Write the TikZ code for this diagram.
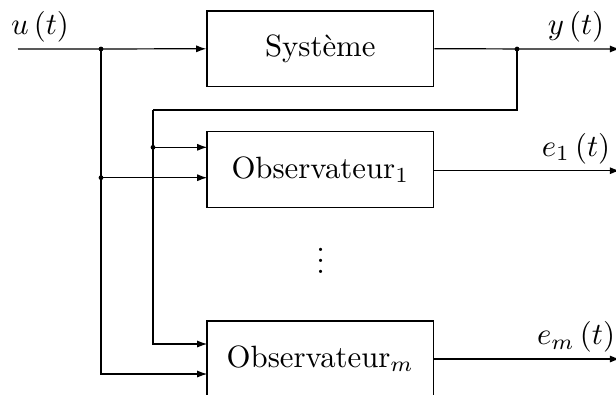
\documentclass[tikz,border=0pt]{standalone}
\usetikzlibrary{arrows.meta}
\begin{document}
\begin{tikzpicture}[x=0.3247pt,y=-0.3247pt,
  blockbox/.style={draw,minimum width=73.6pt,minimum height=24.5pt,inner sep=0pt},
  sig/.style={-{Latex[length=3.3pt,width=2.3pt]}},
  junc/.style={fill,circle,inner sep=0pt,minimum size=1.55pt},
  lbl/.style={above,inner sep=2pt}]
\useasboundingbox (0,0) rectangle (616,394);

% blocks
\node[blockbox] (sys)  at (320.3,48.8)  {Système};
\node[blockbox] (obs1) at (320.3,169.5) {Observateur$_1$};
\node[blockbox] (obsm) at (320.3,358.8) {Observateur$_m$};
\node[inner sep=0pt] (dots) at (320.7,261.3)
  {\vbox{\baselineskip3.57pt\lineskiplimit0pt\hbox{.}\hbox{.}\hbox{.}}};

% input side
\coordinate (uin) at (18,49);
\node[junc] (ju)  at (101,49) {};
\node[junc] (ju1) at (101,177.7) {};
\coordinate (a1u) at (207.3,177.7);
\coordinate (amu) at (207.3,374);

% output side and feedback
\node[junc] (jy) at (517,49) {};
\coordinate (yout) at (620,49);
\coordinate (fb) at (153,110);
\node[junc] (jf) at (153,147.3) {};
\coordinate (a1y) at (207.3,147.3);
\coordinate (amy) at (207.3,344);
\coordinate (e1out) at (620,170.7);
\coordinate (emout) at (620,359);

% input u(t)
\draw[sig] (uin) -- (sys.west);
\draw[sig] (ju.center) |- (amu);
\draw[sig] (ju1.center) -- (a1u);

% output y(t) and its feedback to the observers
\draw[sig] (sys.east) -- (yout);
\draw (jy.center) |- (fb);
\draw[sig] (fb) |- (amy);
\draw[sig] (jf.center) -- (a1y);

% observer outputs
\draw[sig] (obs1.east |- e1out) -- (e1out);
\draw[sig] (obsm.east |- emout) -- (emout);

% signal labels
\node[lbl] (lu)  at (40,49)    {$u\left(t\right)$};
\node[lbl] (ly)  at (576,49)   {$y\left(t\right)$};
\node[lbl] (le1) at (576,170.7) {$e_1\left(t\right)$};
\node[lbl] (lem) at (576,359)  {$e_m\left(t\right)$};
\end{tikzpicture}
\end{document}
